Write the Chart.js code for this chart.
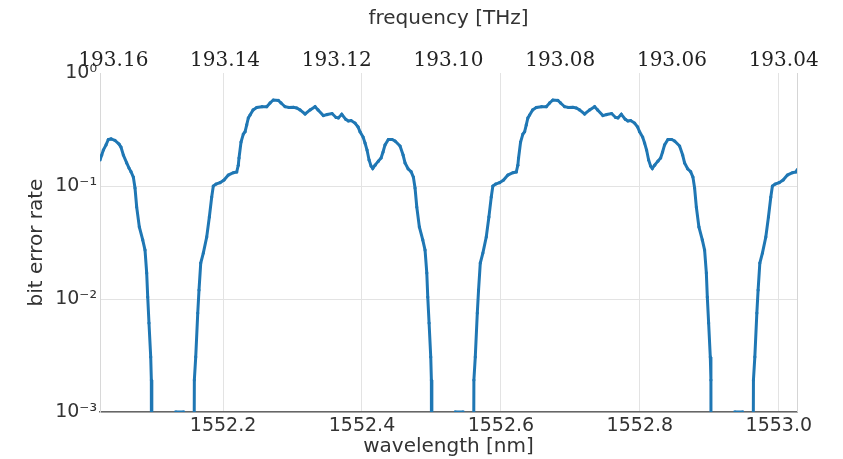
<!DOCTYPE html>
<html>
<head>
<meta charset="utf-8">
<script src="https://cdn.jsdelivr.net/npm/chart.js@4"></script>
<style>
  html, body { margin: 0; padding: 0; background: #fff; }
  #wrap { width: 843px; height: 459px; }
</style>
</head>
<body>
<div id="wrap"><canvas id="myChart"></canvas></div>
<script>
// wavelength axis range [nm] and tick values
const WL_MIN = 1552.0229;
const WL_MAX = 1553.0262;
const WL_TICKS = [1552.2, 1552.4, 1552.6, 1552.8, 1553.0];
const FREQ_TICKS = [193.16, 193.14, 193.12, 193.10, 193.08, 193.06, 193.04];
const BER_TICKS = [0.001, 0.01, 0.1, 1];
const BER_LABELS = ["10\u207B\u00B3", "10\u207B\u00B2", "10\u207B\u00B9", "10\u2070"];
const C_LIGHT = 299792.458; // nm * THz

// measured curve (1e-6 = no errors counted, below the plot)
const WAVELENGTH = [
  1552.0229, 1552.0254, 1552.0277, 1552.0316, 1552.0349, 1552.0388, 1552.0445, 1552.0503, 1552.0531, 1552.0565,
  1552.0613, 1552.0647, 1552.0675, 1552.0709, 1552.0733, 1552.0757, 1552.0795, 1552.0844, 1552.0877, 1552.0901,
  1552.0916, 1552.0934, 1552.0959, 1552.0968, 1552.0975,
  1552.1093, 1552.1237, 1552.1323, 1552.1428, 1552.1496, 1552.1571, 1552.1587, 1552.1607, 1552.1636, 1552.1654,
  1552.1679, 1552.1716, 1552.1765, 1552.1803, 1552.1837, 1552.1860, 1552.1899, 1552.1957, 1552.2014, 1552.2076,
  1552.2148, 1552.2197, 1552.2220, 1552.2230, 1552.2259, 1552.2292, 1552.2317, 1552.2341, 1552.2364, 1552.2389,
  1552.2432, 1552.2485, 1552.2562, 1552.2629, 1552.2677, 1552.2724, 1552.2796, 1552.2835, 1552.2893, 1552.2950,
  1552.3012, 1552.3061, 1552.3109, 1552.3181, 1552.3253, 1552.3325, 1552.3368, 1552.3444, 1552.3498, 1552.3569,
  1552.3627, 1552.3660, 1552.3709, 1552.3767, 1552.3804, 1552.3843, 1552.3900, 1552.3944, 1552.3972, 1552.4016,
  1552.4044, 1552.4073, 1552.4102, 1552.4131, 1552.4155, 1552.4189, 1552.4236, 1552.4275, 1552.4303, 1552.4332,
  1552.4380, 1552.4433, 1552.4476, 1552.4548, 1552.4592, 1552.4620, 1552.4664, 1552.4707, 1552.4740, 1552.4764,
  1552.4789, 1552.4826, 1552.4875, 1552.4908, 1552.4933, 1552.4947, 1552.4966, 1552.4990, 1552.4999, 1552.5006,
  1552.5117, 1552.5261, 1552.5347, 1552.5452, 1552.5520, 1552.5595, 1552.5611, 1552.5631, 1552.5660, 1552.5678,
  1552.5703, 1552.5740, 1552.5789, 1552.5827, 1552.5861, 1552.5884, 1552.5923, 1552.5981, 1552.6038, 1552.6100,
  1552.6172, 1552.6221, 1552.6244, 1552.6254, 1552.6283, 1552.6316, 1552.6341, 1552.6365, 1552.6388, 1552.6413,
  1552.6456, 1552.6509, 1552.6586, 1552.6653, 1552.6701, 1552.6748, 1552.6820, 1552.6859, 1552.6917, 1552.6974,
  1552.7036, 1552.7085, 1552.7133, 1552.7205, 1552.7277, 1552.7349, 1552.7392, 1552.7468, 1552.7522, 1552.7593,
  1552.7651, 1552.7684, 1552.7733, 1552.7791, 1552.7828, 1552.7867, 1552.7924, 1552.7968, 1552.7996, 1552.8040,
  1552.8068, 1552.8097, 1552.8126, 1552.8155, 1552.8179, 1552.8213, 1552.8260, 1552.8299, 1552.8327, 1552.8356,
  1552.8404, 1552.8457, 1552.8500, 1552.8572, 1552.8616, 1552.8644, 1552.8688, 1552.8731, 1552.8764, 1552.8788,
  1552.8813, 1552.8850, 1552.8899, 1552.8932, 1552.8957, 1552.8971, 1552.8990, 1552.9014, 1552.9023, 1552.9030,
  1552.9141, 1552.9285, 1552.9371, 1552.9476, 1552.9544, 1552.9619, 1552.9635, 1552.9655, 1552.9684, 1552.9702,
  1552.9727, 1552.9764, 1552.9813, 1552.9851, 1552.9885, 1552.9908, 1552.9947, 1553.0005, 1553.0062, 1553.0124,
  1553.0196, 1553.0245, 1553.0268
];
const BER = [
  0.170, 0.188, 0.208, 0.231, 0.258, 0.261, 0.253, 0.235, 0.221, 0.188,
  0.160, 0.144, 0.134, 0.120, 0.0960, 0.0652, 0.0434, 0.0333, 0.0271, 0.0170,
  0.0104, 0.00613, 0.00307, 0.00192, 1e-6,
  1e-6, 1e-6, 0.001, 0.001, 1e-6, 1e-6, 0.00192, 0.00307, 0.00752, 0.0120,
  0.0208, 0.0255, 0.0354, 0.0532, 0.0799, 0.100, 0.104, 0.107, 0.113, 0.125,
  0.131, 0.133, 0.153, 0.177, 0.245, 0.288, 0.302, 0.347, 0.400, 0.425,
  0.471, 0.495, 0.503, 0.503, 0.543, 0.577, 0.572, 0.543, 0.503, 0.495,
  0.497, 0.490, 0.471, 0.434, 0.471, 0.503, 0.471, 0.420, 0.429, 0.438,
  0.404, 0.400, 0.431, 0.389, 0.376, 0.380, 0.361, 0.333, 0.302, 0.271,
  0.240, 0.208, 0.170, 0.150, 0.143, 0.153, 0.166, 0.177, 0.200, 0.231,
  0.258, 0.258, 0.250, 0.226, 0.188, 0.160, 0.142, 0.134, 0.120, 0.0960,
  0.0652, 0.0434, 0.0333, 0.0271, 0.0170, 0.0104, 0.00613, 0.00307, 0.00192, 1e-6,
  1e-6, 1e-6, 0.001, 0.001, 1e-6, 1e-6, 0.00192, 0.00307, 0.00752, 0.0120,
  0.0208, 0.0255, 0.0354, 0.0532, 0.0799, 0.100, 0.104, 0.107, 0.113, 0.125,
  0.131, 0.133, 0.153, 0.177, 0.245, 0.288, 0.302, 0.347, 0.400, 0.425,
  0.471, 0.495, 0.503, 0.503, 0.543, 0.577, 0.572, 0.543, 0.503, 0.495,
  0.497, 0.490, 0.471, 0.434, 0.471, 0.503, 0.471, 0.420, 0.429, 0.438,
  0.404, 0.400, 0.431, 0.389, 0.376, 0.380, 0.361, 0.333, 0.302, 0.271,
  0.240, 0.208, 0.170, 0.150, 0.143, 0.153, 0.166, 0.177, 0.200, 0.231,
  0.258, 0.258, 0.250, 0.226, 0.188, 0.160, 0.142, 0.134, 0.120, 0.0960,
  0.0652, 0.0434, 0.0333, 0.0271, 0.0170, 0.0104, 0.00613, 0.00307, 0.00192, 1e-6,
  1e-6, 1e-6, 0.001, 0.001, 1e-6, 1e-6, 0.00192, 0.00307, 0.00752, 0.0120,
  0.0208, 0.0255, 0.0354, 0.0532, 0.0799, 0.100, 0.104, 0.107, 0.113, 0.125,
  0.131, 0.133, 0.140
];

const SANS = "'DejaVu Sans', sans-serif";
const SERIF = "'DejaVu Serif', serif";
const TEXT = "#333";
const GRID = "#e3e3e3";

// thin light line on the right edge of the plot
const rightEdge = {
  id: "rightEdge",
  beforeDatasetsDraw(chart) {
    const { ctx, chartArea: a } = chart;
    ctx.save();
    ctx.strokeStyle = "#d5d5d5";
    ctx.lineWidth = 1;
    ctx.beginPath();
    ctx.moveTo(Math.round(a.right) + 0.5, a.top);
    ctx.lineTo(Math.round(a.right) + 0.5, a.bottom);
    ctx.stroke();
    ctx.restore();
  }
};

const config = {
  type: "line",
  data: {
    datasets: [{
      data: WAVELENGTH.map((wl, i) => ({ x: wl, y: BER[i] })),
      borderColor: "#1f77b4",
      backgroundColor: "#1f77b4",
      borderWidth: 3,
      pointRadius: 1.6,
      pointBorderWidth: 0,
      tension: 0,
      xAxisID: "x",
      yAxisID: "y"
    }]
  },
  options: {
    responsive: true,
    maintainAspectRatio: false,
    animation: false,
    layout: { padding: { right: 46 } },
    plugins: { legend: { display: false }, tooltip: { enabled: false } },
    scales: {
      x: {
        type: "linear",
        position: "bottom",
        min: WL_MIN,
        max: WL_MAX,
        afterBuildTicks: s => { s.ticks = WL_TICKS.map(v => ({ value: v })); },
        afterFit: s => { s.height = 47; },
        ticks: {
          callback: v => v.toFixed(1),
          font: { family: SANS, size: 19 },
          color: TEXT,
          padding: 3,
          maxRotation: 0,
          autoSkip: false
        },
        grid: { color: GRID, drawTicks: false },
        border: { color: "#666", width: 1.5 },
        title: { display: true, text: "wavelength [nm]", font: { family: SANS, size: 20 }, color: TEXT, padding: { top: 0, bottom: 0 } }
      },
      x2: {
        type: "linear",
        position: "top",
        reverse: true,
        min: C_LIGHT / WL_MAX,
        max: C_LIGHT / WL_MIN,
        afterBuildTicks: s => { s.ticks = FREQ_TICKS.map(v => ({ value: v })); },
        afterFit: s => { s.height = 73; },
        ticks: {
          callback: v => v.toFixed(2),
          font: { family: SERIF, size: 20 },
          color: "#222",
          padding: 0,
          maxRotation: 0,
          autoSkip: false
        },
        grid: { drawOnChartArea: false, drawTicks: false },
        border: { display: false },
        title: { display: true, text: "frequency [THz]", font: { family: SANS, size: 20 }, color: TEXT, padding: { top: 7, bottom: 0 } }
      },
      y: {
        type: "logarithmic",
        min: 0.001,
        max: 1,
        afterBuildTicks: s => { s.ticks = BER_TICKS.map(v => ({ value: v })); },
        afterFit: s => { s.width = 100; },
        ticks: {
          callback: (v, i) => BER_LABELS[i],
          font: { family: SANS, size: 19 },
          color: TEXT,
          padding: 3
        },
        grid: {
          color: ctx => (ctx.tick && ctx.tick.value === 1 ? "rgba(0,0,0,0)" : GRID),
          drawTicks: false
        },
        border: { color: "#d8d8d8" },
        title: { display: true, text: "bit error rate", font: { family: SANS, size: 20 }, color: TEXT, padding: { top: 25, bottom: 0 } }
      }
    }
  },
  plugins: [rightEdge]
};

const myChart = new Chart(document.getElementById("myChart"), config);
</script>
</body>
</html>
